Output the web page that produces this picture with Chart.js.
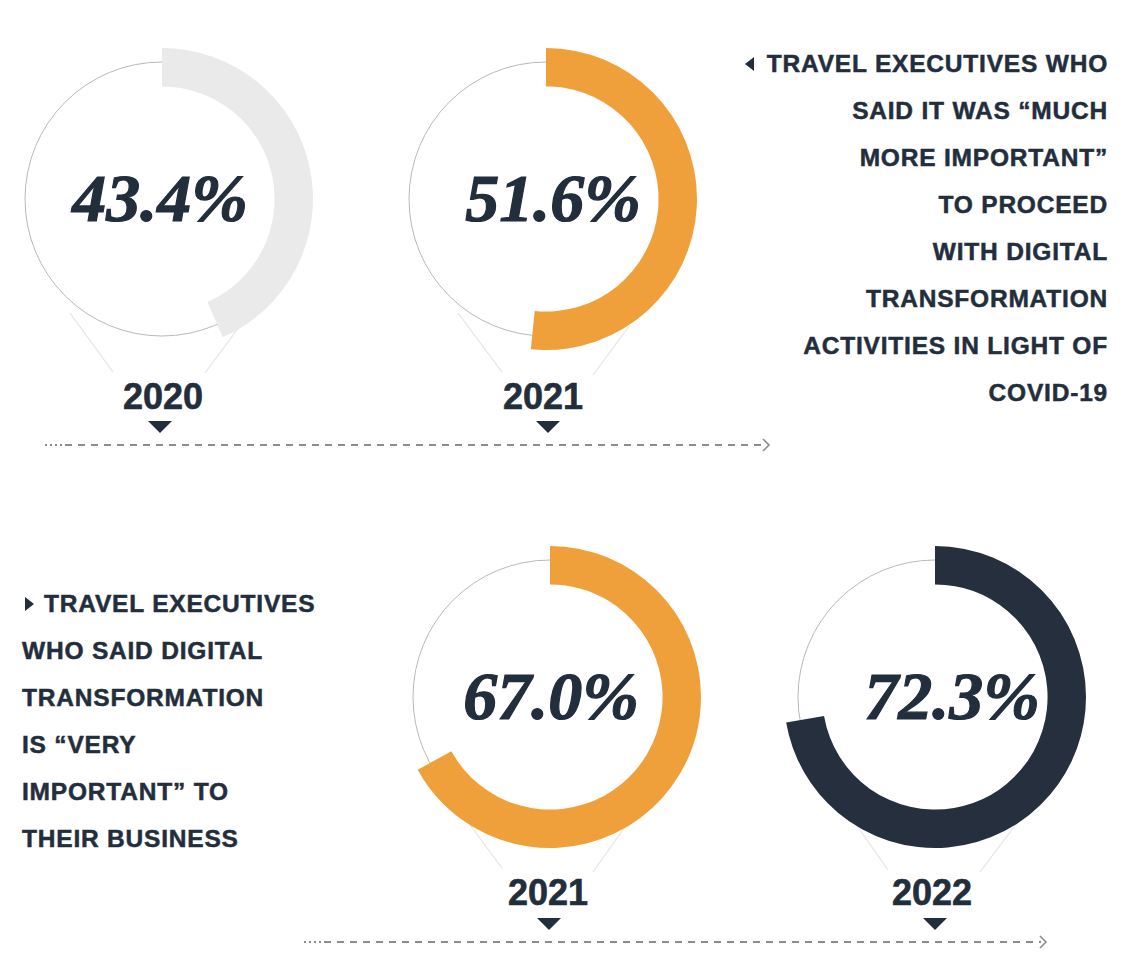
<!DOCTYPE html>
<html>
<head>
<meta charset="utf-8">
<script src="https://cdn.jsdelivr.net/npm/chart.js@4"></script>
<style>
  html, body { margin: 0; padding: 0; background: #fff; }
  body { width: 1130px; height: 958px; position: relative; overflow: hidden;
         font-family: "Liberation Sans", Arial, sans-serif; color: #232e3d; }
  canvas.donut { position: absolute; }
  .year { position: absolute; width: 160px; text-align: center; font-weight: bold;
          font-size: 36px; line-height: 36px; -webkit-text-stroke: 0.6px #232e3d; }
  .tri-down { position: absolute; width: 0; height: 0; border-left: 12px solid transparent;
              border-right: 12px solid transparent; border-top: 12px solid #232e3d; }
  .note { position: absolute; font-weight: bold; font-size: 24.5px; line-height: 47px;
          letter-spacing: 0.8px; white-space: nowrap; -webkit-text-stroke: 0.5px #232e3d; }
  .tri-left { display: inline-block; width: 0; height: 0; border-top: 7px solid transparent;
              border-bottom: 7px solid transparent; border-right: 9px solid #232e3d;
              margin-right: 13px; vertical-align: 1px; }
  .tri-right { display: inline-block; width: 0; height: 0; border-top: 7px solid transparent;
               border-bottom: 7px solid transparent; border-left: 9px solid #232e3d;
               margin-left: 3px; margin-right: 10px; vertical-align: 1px; }
  svg { position: absolute; left: 0; top: 0; }
</style>
</head>
<body>

<svg width="1130" height="958">
  <g stroke="#e4e4e4" stroke-width="1.2">
    <line x1="70" y1="313" x2="113" y2="372"/>
    <line x1="242" y1="323" x2="205" y2="373"/>
    <line x1="458" y1="313" x2="502" y2="372"/>
    <line x1="630" y1="325" x2="593" y2="375"/>
    <line x1="470" y1="825" x2="502" y2="868"/>
    <line x1="637" y1="810" x2="593" y2="872"/>
    <line x1="855" y1="823" x2="888" y2="870"/>
    <line x1="1017" y1="823" x2="980" y2="872"/>
  </g>
  <g stroke="#8c8c8c" stroke-width="2" fill="none">
    <line x1="45" y1="445" x2="64" y2="445" stroke-dasharray="2 3"/>
    <line x1="65" y1="445" x2="764" y2="445" stroke-dasharray="7 6"/>
    <polyline points="763,439 769,445 763,451" stroke-width="1.6"/>
    <line x1="304" y1="942" x2="323" y2="942" stroke-dasharray="2 3"/>
    <line x1="324" y1="942" x2="1041" y2="942" stroke-dasharray="7 6"/>
    <polyline points="1040,936 1046,942 1040,948" stroke-width="1.6"/>
  </g>
</svg>

<div class="note" style="right:22px; top:40px; text-align:right;">
  <span class="tri-left"></span>TRAVEL EXECUTIVES WHO<br>
  SAID IT WAS “MUCH<br>
  MORE IMPORTANT”<br>
  TO PROCEED<br>
  WITH DIGITAL<br>
  TRANSFORMATION<br>
  ACTIVITIES IN LIGHT OF<br>
  COVID-19
</div>

<div class="note" style="left:22px; top:580px;">
  <span class="tri-right"></span>TRAVEL EXECUTIVES<br>
  WHO SAID DIGITAL<br>
  TRANSFORMATION<br>
  IS “VERY<br>
  IMPORTANT” TO<br>
  THEIR BUSINESS
</div>

<div id="holder"></div>

<script>
// values
const years = ['2020', '2021', '2021', '2022'];
const shares = [43.4, 51.6, 67.0, 72.3];
const arcColors = ['#e9eae9', '#f0a03a', '#f0a03a', '#252f3e'];

// layout of each ring (page pixels)
const centers = [[162, 199], [546, 199], [550, 697], [935, 697]];
const labelX = [163, 543, 548, 932];
const labelY = [379, 379, 875, 875];
const textShift = [-2, 7, 1, 17];
const triX = [160, 548, 549, 935];
const triY = [421, 421, 918, 918];

const SIZE = 330;
const thinRing = {
  id: 'thinRing',
  beforeDatasetsDraw(chart) {
    const { ctx } = chart;
    const m = chart.getDatasetMeta(0).data[0];
    ctx.save();
    ctx.beginPath();
    ctx.arc(m.x, m.y, 137, 0, Math.PI * 2);
    ctx.strokeStyle = '#b8b8b8';
    ctx.lineWidth = 1;
    ctx.stroke();
    ctx.restore();
  },
  afterDatasetsDraw(chart, args, opts) {
    const { ctx } = chart;
    const m = chart.getDatasetMeta(0).data[0];
    const v = chart.data.datasets[0].data[0];
    ctx.save();
    ctx.font = 'italic bold 68px "Liberation Serif", serif';
    ctx.fillStyle = '#232e3d';
    ctx.strokeStyle = '#232e3d';
    ctx.lineWidth = 1.2;
    ctx.textAlign = 'center';
    ctx.textBaseline = 'alphabetic';
    ctx.fillText(v.toFixed(1) + '%', m.x + opts.shift, m.y + 22);
    ctx.strokeText(v.toFixed(1) + '%', m.x + opts.shift, m.y + 22);
    ctx.restore();
  }
};

const holder = document.getElementById('holder');
shares.forEach(function(v, i) {
  const cv = document.createElement('canvas');
  cv.className = 'donut';
  cv.width = SIZE; cv.height = SIZE;
  cv.style.left = (centers[i][0] - SIZE / 2) + 'px';
  cv.style.top = (centers[i][1] - SIZE / 2) + 'px';
  holder.appendChild(cv);

  new Chart(cv, {
    type: 'doughnut',
    data: {
      labels: [years[i], ''],
      datasets: [{
        data: [v, 100 - v],
        backgroundColor: [arcColors[i], 'rgba(0,0,0,0)'],
        borderWidth: 0
      }]
    },
    options: {
      responsive: false,
      animation: false,
      radius: 151,
      cutout: 123,
      layout: { padding: 0 },
      plugins: { legend: { display: false }, tooltip: { enabled: false }, thinRing: { shift: textShift[i] } }
    },
    plugins: [thinRing]
  });

  const lab = document.createElement('div');
  lab.className = 'year';
  lab.textContent = years[i];
  lab.style.left = (labelX[i] - 80) + 'px';
  lab.style.top = labelY[i] + 'px';
  holder.appendChild(lab);

  const tri = document.createElement('div');
  tri.className = 'tri-down';
  tri.style.left = (triX[i] - 12) + 'px';
  tri.style.top = triY[i] + 'px';
  holder.appendChild(tri);
});
</script>
</body>
</html>
